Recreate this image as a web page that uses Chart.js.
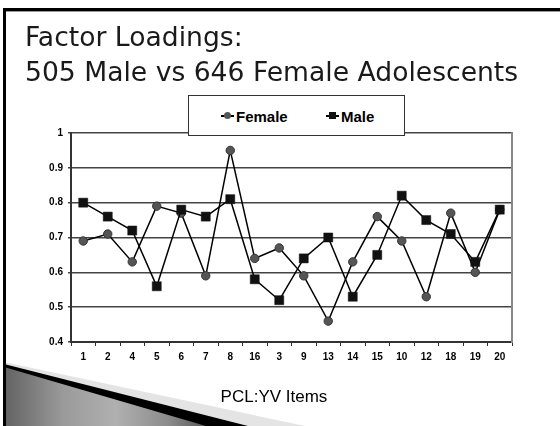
<!DOCTYPE html>
<html><head><meta charset="utf-8">
<script src="https://cdn.jsdelivr.net/npm/chart.js@4.4.1/dist/chart.umd.min.js"></script>
<style>
html,body{margin:0;padding:0;background:#fff;}
#slide{position:relative;width:560px;height:426px;overflow:hidden;background:#fff;}
.abs{position:absolute;}
#c{position:absolute;left:0;top:0;width:560px;height:426px;}
#title{position:absolute;left:25px;top:19px;font-family:"DejaVu Sans",sans-serif;font-size:26.6px;line-height:35px;color:#1a1a1a;white-space:nowrap;}
#legend{position:absolute;left:188px;top:95px;width:217px;height:41px;box-sizing:border-box;border:1px solid #333;background:#fff;}
.litem{position:absolute;top:10px;height:20px;display:flex;align-items:center;font-family:"Liberation Sans",Arial,sans-serif;font-weight:bold;font-size:15px;color:#000;}
.lmark{position:relative;width:13px;height:20px;margin-right:2px;}
.lline{position:absolute;left:0;right:0;top:9px;height:1.5px;background:#000;}
.ldot{position:absolute;left:3px;top:6px;width:7px;height:7px;}
#xtitle{position:absolute;left:174px;width:200px;top:386px;text-align:center;font-family:"Liberation Sans",Arial,sans-serif;font-size:17px;line-height:22px;color:#000;}
</style></head>
<body>
<div id="slide">
  <div class="abs" style="left:0;top:0;width:560px;height:426px;background:#e4e4e4;clip-path:polygon(4px 362px,305px 426px,4px 426px);"></div>
  <div class="abs" style="left:0;top:0;width:560px;height:426px;background:#000;clip-path:polygon(4px 364px,248px 426px,4px 426px);"></div>
  <div class="abs" style="left:0;top:0;width:210px;height:426px;background:linear-gradient(to right,#5e5e5e 0%,#9a9a9a 30%,#b0b0b0 55%,#8c8c8c 80%,#555 100%);clip-path:polygon(4px 367px,206px 426px,4px 426px);"></div>
  <canvas id="c" width="560" height="426"></canvas>
  <div id="title">Factor Loadings:<br>505 Male vs 646 Female Adolescents</div>
  <div id="legend"></div>
  <div id="xtitle">PCL:YV Items</div>
  <div class="abs" style="left:3px;top:8px;width:557px;height:3px;background:#000;"></div>
  <div class="abs" style="left:3px;top:11px;width:557px;height:1px;background:#999;"></div>
  <div class="abs" style="left:3px;top:8px;width:3px;height:418px;background:#000;"></div>
</div>
<script>
const categories = ['1','2','4','5','6','7','8','16','3','9','13','14','15','10','12','18','19','20'];
const femaleValues = [0.69,0.71,0.63,0.79,0.77,0.59,0.95,0.64,0.67,0.59,0.46,0.63,0.76,0.69,0.53,0.77,0.60,0.78];
const maleValues   = [0.80,0.76,0.72,0.56,0.78,0.76,0.81,0.58,0.52,0.64,0.70,0.53,0.65,0.82,0.75,0.71,0.63,0.78];
const yTickLabels = ['0.4','0.5','0.6','0.7','0.8','0.9','1'];
const seriesNames = ['Female','Male'];

const tickFont = {family:'Liberation Sans', weight:'bold', size:10};

const chart = new Chart(document.getElementById('c'), {
  type: 'line',
  data: {
    labels: categories,
    datasets: [
      {label: seriesNames[0], data: femaleValues, order: 1,
       borderColor:'#000', borderWidth:1.5, tension:0, fill:false,
       pointStyle:'circle', pointRadius:4.2, pointBackgroundColor:'#555', pointBorderColor:'#333', pointBorderWidth:1},
      {label: seriesNames[1], data: maleValues, order: 0,
       borderColor:'#000', borderWidth:1.5, tension:0, fill:false,
       pointStyle:'rect', pointRadius:6.4, pointBackgroundColor:'#111', pointBorderColor:'#111', pointBorderWidth:0.5}
    ]
  },
  options: {
    responsive:false, animation:false, devicePixelRatio:1,
    layout:{padding:{left:0, right:48, top:133, bottom:0}},
    plugins:{legend:{display:false}, title:{display:false}, tooltip:{enabled:false}},
    scales:{
      x:{type:'category', offset:true,
         grid:{display:true, drawOnChartArea:false, offset:true, tickLength:4, color:'#333', lineWidth:1},
         border:{display:true, color:'#333', width:2},
         ticks:{font:tickFont, color:'#000', padding:5, maxRotation:0, autoSkip:false},
         afterFit(s){ s.height = 84; }},
      y:{min:0.4, max:1,
         ticks:{stepSize:0.1, font:tickFont, color:'#000', padding:5,
                callback:(v)=> yTickLabels[Math.round((v-0.4)*10)]},
         grid:{color:'#444', lineWidth:1.5, tickLength:3},
         border:{display:true, color:'#333', width:2},
         afterFit(s){ s.width = 71; }},
      yRight:{position:'right', display:true, min:0.4, max:1,
         grid:{display:false}, ticks:{display:false},
         border:{display:true, color:'#888', width:2},
         afterFit(s){ s.width = 0; }}
    }
  }
});

// HTML legend built from the chart's datasets
const legend = document.getElementById('legend');
const lpos = [32, 137];
chart.data.datasets.forEach((ds, i) => {
  const item = document.createElement('div');
  item.className = 'litem';
  item.style.left = lpos[i] + 'px';
  const mark = document.createElement('span');
  mark.className = 'lmark';
  const line = document.createElement('span'); line.className = 'lline';
  const dot = document.createElement('span'); dot.className = 'ldot';
  dot.style.background = ds.pointBackgroundColor;
  if (ds.pointStyle === 'circle') dot.style.borderRadius = '50%';
  mark.appendChild(line); mark.appendChild(dot);
  const txt = document.createElement('span'); txt.textContent = ds.label;
  item.appendChild(mark); item.appendChild(txt);
  legend.appendChild(item);
});
</script>
</body></html>
